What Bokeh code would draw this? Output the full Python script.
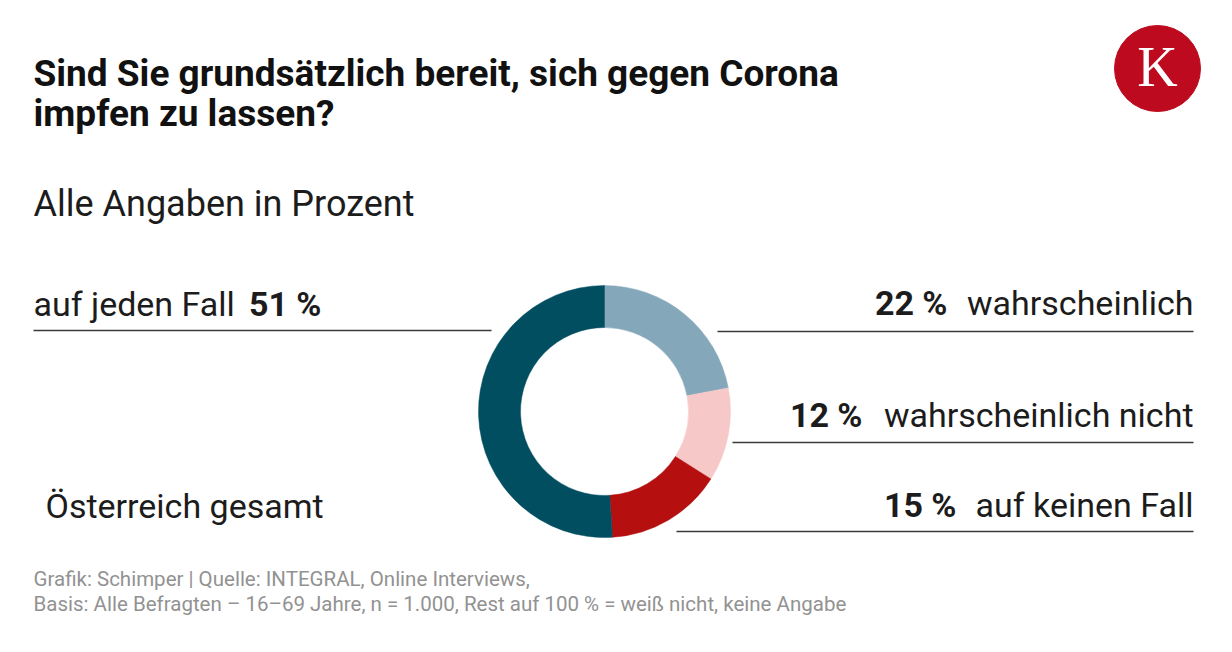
import math
from bokeh.plotting import figure
from bokeh.models import Range1d, ColumnDataSource
from bokeh.core.properties import value
from bokeh.embed import file_html
from bokeh.resources import INLINE

W, H = 1232, 652

title_lines = ["Sind Sie grundsätzlich bereit, sich gegen Corona", "impfen zu lassen?"]
subtitle = "Alle Angaben in Prozent"
categories = ["wahrscheinlich", "wahrscheinlich nicht", "auf keinen Fall", "auf jeden Fall"]
values = [22, 12, 15, 51]
colors = ["#84A7BA", "#F6C8C8", "#B50F0F", "#024E61"]
region_label = "Österreich gesamt"
footer_lines = ["Grafik: Schimper | Quelle: INTEGRAL, Online Interviews,",
                "Basis: Alle Befragten – 16–69 Jahre, n = 1.000, Rest auf 100 % = weiß nicht, keine Angabe"]
logo_letter = "K"

K_SHIFT = 0.36

def Y(v):
    return H - v

def TY(baseline, size):
    # compensate the renderer's baseline offset
    return H - (baseline - K_SHIFT * size)

p = figure(width=W, height=H, x_range=Range1d(0, W), y_range=Range1d(0, H),
           output_backend="svg", toolbar_location=None, min_border=0)
p.axis.visible = False
p.grid.visible = False
p.outline_line_color = None
p.background_fill_color = "white"
p.border_fill_color = "white"

FONT = value("Roboto")
DARK = "#1c1c1c"

TS = 37
p.text(x=[33, 33], y=[TY(86, TS), TY(126, TS)], text=title_lines, text_font=FONT,
       text_font_size=f"{TS}px", text_font_style="bold", text_color="#111111",
       text_baseline="alphabetic", text_align="left")
SS = 36
p.text(x=[33], y=[TY(216, SS)], text=[subtitle], text_font=FONT, text_font_size=f"{SS}px",
       text_color=DARK, text_baseline="alphabetic", text_align="left")

# Donut
cx, cy = 604, Y(411)
total = sum(values)
starts, ends = [], []
c = 0
for v in values:
    starts.append(math.pi / 2 - 2 * math.pi * c / total)
    c += v
    ends.append(math.pi / 2 - 2 * math.pi * c / total)
src = ColumnDataSource(dict(start=starts, end=ends, color=colors,
                            x=[cx] * len(values), y=[cy] * len(values)))
p.annular_wedge(x="x", y="y", inner_radius=84, outer_radius=126,
                start_angle="start", end_angle="end", direction="clock",
                fill_color="color", line_color="color", line_width=0.5, source=src)

LS = 34
pct = [f"{v} %" for v in values]
r_base = [315, 427, 517]
r_pct_right = [947, 862, 956]
p.text(x=[1193] * 3, y=[TY(b, LS) for b in r_base], text=categories[:3], text_font=FONT,
       text_font_size=f"{LS}px", text_color=DARK, text_baseline="alphabetic", text_align="right")
p.text(x=r_pct_right, y=[TY(b, LS) for b in r_base], text=pct[:3], text_font=FONT,
       text_font_size=f"{LS}px", text_font_style="bold", text_color=DARK,
       text_baseline="alphabetic", text_align="right")
p.text(x=[33], y=[TY(316, LS)], text=[categories[3]], text_font=FONT, text_font_size=f"{LS}px",
       text_color=DARK, text_baseline="alphabetic", text_align="left")
p.text(x=[321], y=[TY(316, LS)], text=[pct[3]], text_font=FONT, text_font_size=f"{LS}px",
       text_font_style="bold", text_color=DARK, text_baseline="alphabetic", text_align="right")

p.segment(x0=[33, 717, 732, 676], x1=[491, 1193, 1193, 1193],
          y0=[Y(330), Y(331), Y(442), Y(531)], y1=[Y(330), Y(331), Y(442), Y(531)],
          line_color="#3a3a3a", line_width=1.5)

p.text(x=[45], y=[TY(518, LS)], text=[region_label], text_font=FONT, text_font_size=f"{LS}px",
       text_color=DARK, text_baseline="alphabetic", text_align="left")

FS = 20.5
p.text(x=[33, 33], y=[TY(586, FS), TY(611, FS)], text=footer_lines, text_font=FONT,
       text_font_size=f"{FS}px", text_color="#929292", text_baseline="alphabetic", text_align="left")

p.scatter(x=[1157], y=[Y(68)], size=86, marker="circle", fill_color="#BE0A1E", line_color="#BE0A1E")
KS = 56
p.text(x=[1157], y=[TY(87, KS)], text=[logo_letter], text_font=value("Liberation Serif"),
       text_font_size=f"{KS}px", text_color="white", text_baseline="alphabetic", text_align="center")

open("out.html", "w").write(file_html(p, INLINE))
